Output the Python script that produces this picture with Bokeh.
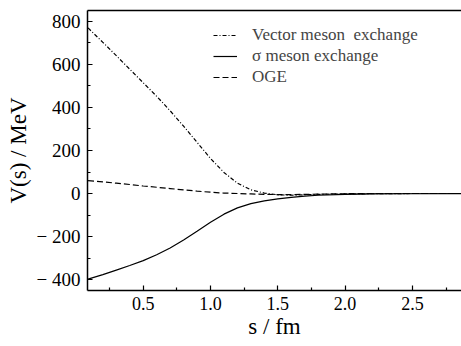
from bokeh.plotting import figure
from bokeh.models import (Range1d, FixedTicker, Legend, LegendItem, LinearAxis,
                          NumeralTickFormatter)
from bokeh.embed import file_html
from bokeh.resources import INLINE

# ---- data ----
s = [0.09, 0.2, 0.3, 0.4, 0.5, 0.6, 0.7, 0.8, 0.9, 1.0, 1.1, 1.2, 1.3, 1.4,
     1.5, 1.6, 1.7, 1.8, 2.0, 2.2, 2.5, 2.9]
v_vector = [770, 703, 641, 578, 515, 452, 385, 313, 238, 163, 98, 48, 17, 2,
            -6, -8, -6, -4, -2, -1, 0, 0]
v_sigma = [-398, -377, -356, -335, -312, -285, -253, -216, -176, -134, -96, -67,
           -47, -34, -25, -18, -12, -8, -4, -2, -1, 0]
v_oge = [60, 54, 48, 42, 35, 29, 23, 17, 11, 6, 2, 0, -2, -4, -5, -5, -4, -3,
         -1, 0, 0, 0]

x_ticks = [0.5, 1.0, 1.5, 2.0, 2.5]
x_minor = [0.25, 0.75, 1.25, 1.75, 2.25, 2.75]
y_ticks = [-400, -200, 0, 200, 400, 600, 800]
y_minor = [-300, -100, 100, 300, 500, 700]
y_tick_labels = {-400: "\u2212 400", -200: "\u2212 200"}

FONT = "'Liberation Serif', 'Times New Roman', serif"

p = figure(width=461, height=346, output_backend="svg", toolbar_location=None,
           x_range=Range1d(0.086, 2.865), y_range=Range1d(-451, 851),
           min_border_left=87, min_border_right=0, min_border_top=10,
           min_border_bottom=56)
p.outline_line_color = None
p.background_fill_color = "white"
p.border_fill_color = "white"
p.grid.visible = False

for ax in (p.xaxis[0], p.yaxis[0]):
    ax.axis_line_width = 1.5
    ax.axis_line_color = "black"
    ax.major_tick_in = 5
    ax.major_tick_out = 0
    ax.minor_tick_in = 3
    ax.minor_tick_out = 0
    ax.major_tick_line_width = 1.2
    ax.minor_tick_line_width = 1.2
    ax.major_label_text_font = FONT
    ax.major_label_text_color = "black"
    ax.axis_label_text_font = FONT
    ax.axis_label_text_font_size = "23px"
    ax.axis_label_text_font_style = "normal"
    ax.axis_label_text_color = "black"

p.xaxis[0].major_label_text_font_size = "18px"
p.yaxis[0].major_label_text_font_size = "19px"
p.xaxis[0].ticker = FixedTicker(ticks=x_ticks, minor_ticks=x_minor)
p.xaxis[0].formatter = NumeralTickFormatter(format="0.0")
p.yaxis[0].ticker = FixedTicker(ticks=y_ticks, minor_ticks=y_minor)
p.xaxis[0].major_label_standoff = 6
p.yaxis[0].major_label_standoff = 7
p.yaxis[0].major_label_overrides = y_tick_labels
p.xaxis[0].axis_label = "s / fm"
p.yaxis[0].axis_label = "V(s) / MeV"
p.xaxis[0].axis_label_standoff = 1
p.yaxis[0].axis_label_standoff = 3

# top frame line (axis without ticks or labels)
top = LinearAxis(ticker=FixedTicker(ticks=[]), major_tick_in=0, major_tick_out=0,
                 minor_tick_in=0, minor_tick_out=0, major_label_standoff=0,
                 major_label_text_font_size="0px", axis_line_width=1.5,
                 axis_line_color="black")
p.add_layout(top, "above")

r_vec = p.line(s, v_vector, line_color="black", line_width=1.2, line_dash="4 2 1 2")
r_sig = p.line(s, v_sigma, line_color="black", line_width=1.2)
r_oge = p.line(s, v_oge, line_color="black", line_width=1.2, line_dash="6 3")

legend = Legend(items=[
    LegendItem(label="Vector meson  exchange", renderers=[r_vec]),
    LegendItem(label="\u03c3 meson exchange", renderers=[r_sig]),
    LegendItem(label="OGE", renderers=[r_oge]),
], location=(126, 203))
legend.background_fill_alpha = 0
legend.border_line_color = None
legend.padding = 0
legend.margin = 0
legend.spacing = 1
legend.label_height = 20
legend.glyph_height = 20
legend.glyph_width = 24
legend.label_standoff = 15
legend.label_text_font = FONT
legend.label_text_font_size = "17px"
p.add_layout(legend, "center")

open("out.html", "w").write(file_html(p, INLINE))
